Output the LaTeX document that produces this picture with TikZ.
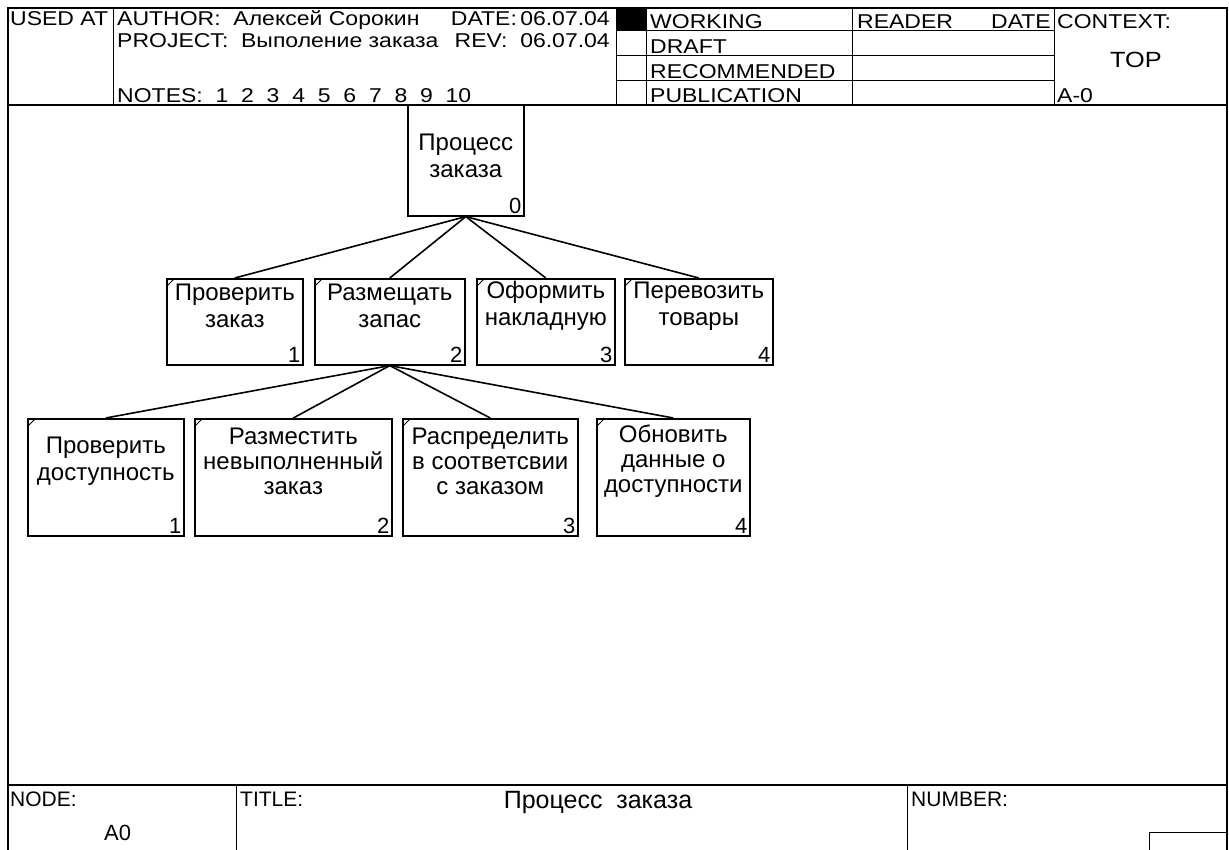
\documentclass[tikz,border=0pt]{standalone}
\usepackage{fontspec}
\setmainfont{Liberation Sans}
\newfontfamily\widefont[FakeStretch=1.15]{Liberation Sans}
\usetikzlibrary{positioning}

\tikzset{
  box/.style={draw, line width=1.6pt, inner sep=0pt, anchor=north west},
  boxtxt/.style={align=center, inner sep=0pt, font=\fontsize{24}{27}\selectfont},
  boxnum/.style={anchor=south east, inner sep=3pt, font=\fontsize{22}{24}\selectfont},
  hdr/.style={anchor=base west, inner sep=0pt, font=\widefont\fontsize{20}{20}\selectfont},
  ftr/.style={anchor=base west, inner sep=0pt, font=\fontsize{21}{21}\selectfont},
  grid/.style={line width=1pt},
  link/.style={line width=1.6pt},
  tick/.style={line width=0.8pt}
}

\begin{document}
\begin{tikzpicture}[x=1pt,y=1pt,yscale=-1,xscale=1]
\useasboundingbox (0,0) rectangle (1229,850);

%Frame
\draw[line width=1.4pt] (8,850) -- (8,8) -- (1227,8) -- (1227,850) ;
\draw[line width=1.2pt] (8,105) -- (1227,105) ;
\draw[line width=1.2pt] (8,785) -- (1227,785) ;

%Header grid
\draw[grid] (113,8) -- (113,105) ;
\draw[grid] (616,8) -- (616,105) ;
\draw[grid] (646,8) -- (646,105) ;
\draw[grid] (852,8) -- (852,105) ;
\draw[grid] (1054,8) -- (1054,105) ;
\draw[grid] (616,31) -- (1054,31) ;
\draw[grid] (616,56) -- (1054,56) ;
\draw[grid] (616,81) -- (1054,81) ;
\fill (616,8) rectangle (646,31) ;

% Header text
\node[hdr] (usedat) at (10,26) {USED AT};
\node[hdr] (author) at (117,26) {AUTHOR:\ \ Алексей Сорокин};
\node[hdr,anchor=base east] (date) at (610,26) {DATE:\,06.07.04};
\node[hdr] (project) at (117,48) {PROJECT:\ \ Выполение заказа};
\node[hdr,anchor=base east] (rev) at (610,48) {REV:\ \ 06.07.04};
\node[hdr] (notes) at (117,103) {NOTES:\ \ 1\ \ 2\ \ 3\ \ 4\ \ 5\ \ 6\ \ 7\ \ 8\ \ 9\ \ 10};
\node[hdr] (working) at (650,29) {WORKING};
\node[hdr] (draft) at (650,54) {DRAFT};
\node[hdr] (recommended) at (650,79) {RECOMMENDED};
\node[hdr] (publication) at (650,103) {PUBLICATION};
\node[hdr] (reader) at (857,29) {READER};
\node[hdr,anchor=base east] (rdate) at (1051,29) {DATE};
\node[hdr] (context) at (1057,29) {CONTEXT:};
\node[hdr,anchor=center,font=\widefont\fontsize{22}{22}\selectfont] (top) at (1136,60) {TOP};
\node[hdr] (ctxnum) at (1057,103) {A-0};

% Boxes
\node[box, minimum width=116pt, minimum height=111pt] (p0) at (407,104) {};
\node[box, minimum width=136pt, minimum height=86pt] (b1) at (166,278) {};
\node[box, minimum width=150pt, minimum height=86pt] (b2) at (314,278) {};
\node[box, minimum width=138pt, minimum height=86pt] (b3) at (476,278) {};
\node[box, minimum width=148pt, minimum height=86pt] (b4) at (624,278) {};
\node[box, minimum width=156pt, minimum height=117pt] (c1) at (27,418) {};
\node[box, minimum width=197pt, minimum height=117pt] (c2) at (194,418) {};
\node[box, minimum width=175pt, minimum height=117pt] (c3) at (402,418) {};
\node[box, minimum width=153pt, minimum height=117pt] (c4) at (596,418) {};

% Corner ticks
\foreach \n in {b1,b2,b3,b4,c1,c2,c3,c4}
  \draw[tick] ([xshift=1pt,yshift=8pt]\n.north west) -- ([xshift=8pt,yshift=1pt]\n.north west) ;

% Box labels
\node[boxtxt] (p0t) at ([yshift=52pt]p0.north) {Процесс\\заказа};
\node[boxtxt] (b1t) at ([yshift=28pt]b1.north) {Проверить\\заказ};
\node[boxtxt] (b2t) at ([yshift=28pt]b2.north) {Размещать\\запас};
\node[boxtxt] (b3t) at ([yshift=28pt]b3.north) {Оформить\\накладную};
\node[boxtxt] (b4t) at ([yshift=28pt]b4.north) {Перевозить\\товары};
\node[boxtxt] (c1t) at ([yshift=43pt]c1.north) {Проверить\\доступность};
\node[boxtxt,font=\fontsize{24}{25}\selectfont] (c2t) at ([yshift=43pt]c2.north) {Разместить\\невыполненный\\заказ};
\node[boxtxt,font=\fontsize{24}{25}\selectfont] (c3t) at ([yshift=43pt]c3.north) {Распределить\\в соответсвии\\с заказом};
\node[boxtxt,font=\fontsize{24}{25}\selectfont] (c4t) at ([yshift=43pt]c4.north) {Обновить\\данные о\\доступности};

% Box numbers
\node[boxnum] (p0n) at (p0.south east) {0};
\node[boxnum] (b1n) at (b1.south east) {1};
\node[boxnum] (b2n) at (b2.south east) {2};
\node[boxnum] (b3n) at (b3.south east) {3};
\node[boxnum] (b4n) at (b4.south east) {4};
\node[boxnum] (c1n) at (c1.south east) {1};
\node[boxnum] (c2n) at (c2.south east) {2};
\node[boxnum] (c3n) at (c3.south east) {3};
\node[boxnum] (c4n) at (c4.south east) {4};

% Links
\foreach \n in {b1,b2,b3,b4}
  \draw[link] (p0.south) -- (\n.north) ;
\foreach \n in {c1,c2,c3,c4}
  \draw[link] (b2.south) -- (\n.north) ;

% Footer
\draw[grid] (236,785) -- (236,850) ;
\draw[grid] (907,785) -- (907,850) ;
\draw[grid] (1149,850) -- (1149,832) -- (1227,832) ;
\node[ftr] (node) at (10,806) {NODE:};
\node[ftr,font=\fontsize{22}{22}\selectfont] (nodeval) at (104,840) {A0};
\node[ftr] (title) at (240,806) {TITLE:};
\node[ftr,anchor=base,font=\fontsize{25}{25}\selectfont] (titleval) at (598,808) {Процесс\ \ заказа};
\node[ftr] (number) at (911,806) {NUMBER:};

\end{tikzpicture}
\end{document}
